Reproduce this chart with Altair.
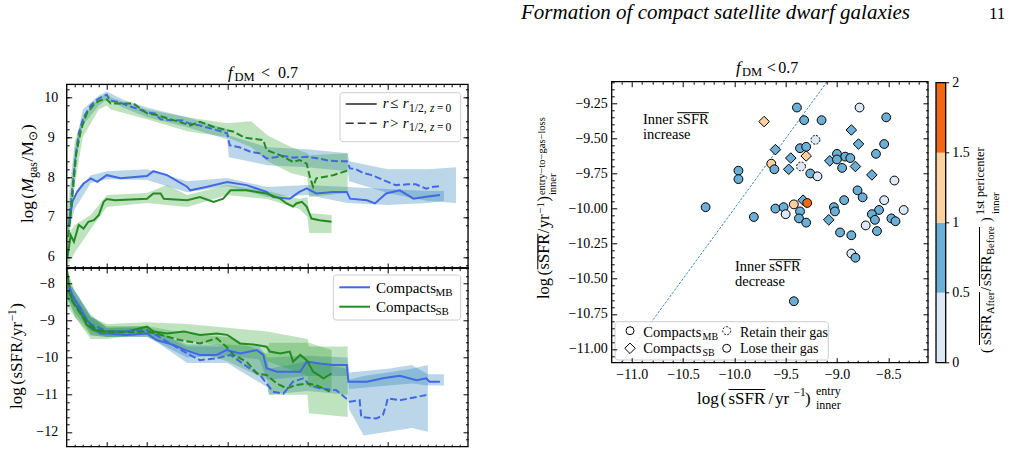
import altair as alt
import pandas as pd

FONT = "Liberation Serif"

# ------------------------------------------------------------------ data
# Left panels: time (Gyr). MB = blue, SB = green; inner (r<=r1/2) solid, outer dashed
mgas_mb_in_t = [-0.97,-0.93,-0.87,-0.79,-0.70,-0.62,-0.50,-0.33,0.0,0.08,0.25,0.50,0.54,0.75,1.00,1.24,1.49,1.57,1.78,1.90,1.99,2.11,2.32,2.49,2.53,2.74,2.84,2.98,3.15,3.32,3.48,3.65]
mgas_mb_in = [6.8,7.38,7.63,7.84,7.97,7.88,8.05,7.97,8.03,8.15,8.05,7.76,7.67,7.76,7.88,7.80,7.63,7.50,7.46,7.63,7.72,7.59,7.63,7.63,7.46,7.42,7.34,7.59,7.67,7.46,7.51,7.55]
mgas_mb_out_t = [-0.97,-0.93,-0.89,-0.85,-0.79,-0.70,-0.62,-0.55,-0.50,-0.46,-0.35,-0.25,-0.12,0.0,0.10,0.17,0.30,0.45,0.52,0.65,0.80,0.92,1.00,1.03,1.15,1.30,1.40,1.49,1.60,1.70,1.82,1.99,2.10,2.28,2.40,2.49,2.53,2.60,2.69,2.80,2.86,3.00,3.10,3.25,3.35,3.48,3.55,3.64]
mgas_mb_out = [6.8,7.7,8.5,9.1,9.5,9.8,9.95,10.03,10.07,9.92,9.88,9.8,9.72,9.62,9.6,9.45,9.43,9.42,9.35,9.3,9.22,9.15,9.1,8.8,8.75,8.63,8.6,8.47,8.50,8.53,8.49,8.51,8.48,8.41,8.40,8.40,8.22,8.20,8.11,8.05,8.00,7.88,7.80,7.82,7.82,7.71,7.75,7.77]
mgas_sb_in_t = [-0.99,-0.95,-0.91,-0.85,-0.79,-0.73,-0.66,-0.60,-0.54,-0.50,-0.40,0.0,0.08,0.17,0.21,0.50,0.66,0.83,0.95,1.04,1.24,1.49,1.66,1.74,1.82,1.86,1.93,1.99,2.05,2.15,2.30]
mgas_sb_in = [6.0,6.54,6.38,6.8,6.71,6.88,6.92,7.05,7.38,7.45,7.42,7.46,7.59,7.59,7.46,7.42,7.5,7.38,7.46,7.67,7.67,7.59,7.46,7.34,7.26,7.34,7.38,7.26,6.96,6.92,6.88]
mgas_sb_out_t = [-0.98,-0.93,-0.88,-0.82,-0.75,-0.65,-0.58,-0.50,-0.45,-0.30,-0.17,0.0,0.12,0.33,0.54,0.66,0.83,1.08,1.22,1.45,1.49,1.66,1.82,1.90,1.99,2.03,2.07,2.11,2.32,2.51]
mgas_sb_out = [6.5,7.5,8.6,9.2,9.6,9.85,9.93,9.95,9.85,9.85,9.85,9.6,9.56,9.43,9.3,9.39,9.26,9.14,8.99,8.93,8.68,8.55,8.38,8.43,8.34,8.0,7.76,7.97,8.05,8.17]

band_mb_out_t = [-0.98,-0.9,-0.8,-0.6,-0.5,-0.3,0.0,0.5,1.0,1.02,1.5,2.0,2.5,2.52,3.0,3.5,3.85]
band_mb_out_lo = [6.6,8.3,9.3,9.8,9.95,9.75,9.5,9.25,8.95,8.5,8.3,8.25,8.15,7.9,7.6,7.4,7.35]
band_mb_out_hi = [7.0,8.7,9.7,10.05,10.15,9.95,9.75,9.5,9.2,9.05,8.75,8.7,8.6,8.4,8.2,8.2,8.25]
band_mb_in_t = [-0.98,-0.9,-0.7,-0.5,0.0,0.5,1.0,1.5,2.0,2.5,3.0,3.5,3.7]
band_mb_in_lo = [6.6,7.2,7.85,7.95,7.93,7.62,7.78,7.5,7.55,7.35,7.3,7.35,7.4]
band_mb_in_hi = [7.0,7.55,8.05,8.15,8.2,7.9,7.98,7.75,7.8,7.75,7.7,7.65,7.65]
band_sb_in_t = [-1.0,-0.9,-0.7,-0.5,0.0,0.25,0.5,1.0,1.5,1.9,2.0,2.02,2.3]
band_sb_in_lo = [5.75,6.1,6.7,7.25,7.35,7.3,7.25,7.55,7.45,7.2,7.0,6.6,6.6]
band_sb_in_hi = [6.5,6.8,7.05,7.55,7.6,7.8,7.55,7.8,7.65,7.45,7.5,7.1,7.05]
band_sb_out_t = [-1.0,-0.9,-0.8,-0.6,-0.5,-0.45,0.0,0.5,1.0,1.3,1.5,1.8,2.0,2.02,2.5]
band_sb_out_lo = [6.0,7.8,9.0,9.7,9.8,9.7,9.45,9.15,9.0,8.75,8.4,8.1,8.0,7.5,7.6]
band_sb_out_hi = [7.0,8.9,9.5,10.0,10.1,10.0,9.7,9.5,9.35,9.4,9.05,8.75,8.6,8.55,8.6]

ssfr_mb_in_t = [-0.97,-0.91,-0.83,-0.75,-0.66,-0.58,-0.50,-0.25,0.0,0.12,0.33,0.48,0.66,0.87,0.99,1.16,1.37,1.45,1.49,1.62,1.78,1.91,1.99,2.15,2.32,2.49,2.51,2.74,2.94,3.15,3.36,3.48,3.52,3.65]
ssfr_mb_in = [-8.13,-8.4,-8.67,-8.99,-9.21,-9.35,-9.35,-9.39,-9.35,-9.53,-9.66,-9.8,-9.93,-9.93,-9.8,-9.89,-9.8,-9.93,-10.29,-10.38,-10.38,-10.38,-10.11,-10.16,-10.2,-10.2,-10.65,-10.65,-10.56,-10.49,-10.61,-10.56,-10.65,-10.65]
ssfr_mb_out_t = [-0.97,-0.9,-0.79,-0.7,-0.58,-0.5,-0.3,0.0,0.25,0.5,0.66,0.87,1.04,1.16,1.28,1.41,1.49,1.57,1.70,1.82,1.95,2.03,2.15,2.36,2.53,2.65,2.67,2.86,2.94,2.98,3.0,3.15,3.48]
ssfr_mb_out = [-8.1,-8.45,-8.85,-9.1,-9.21,-9.3,-9.3,-9.26,-9.57,-9.89,-10.07,-10.02,-9.93,-10.11,-10.29,-10.47,-10.7,-10.92,-10.97,-10.65,-10.56,-10.74,-10.83,-10.88,-11.19,-11.15,-11.6,-11.64,-11.55,-11.28,-11.1,-11.15,-11.01]
ssfr_sb_in_t = [-1.0,-0.97,-0.93,-0.83,-0.75,-0.66,-0.58,-0.25,0.0,0.08,0.25,0.46,0.66,0.87,1.0,1.16,1.37,1.49,1.53,1.66,1.78,1.82,1.91,1.99,2.07,2.2,2.3]
ssfr_sb_in = [-7.6,-8.04,-8.49,-8.76,-9.12,-9.26,-9.3,-9.3,-9.17,-9.3,-9.35,-9.3,-9.39,-9.35,-9.39,-9.62,-9.66,-9.71,-9.84,-9.89,-9.84,-10.11,-9.93,-10.07,-10.38,-10.56,-10.43]
ssfr_sb_out_t = [-0.98,-0.9,-0.8,-0.7,-0.6,-0.5,-0.25,0.0,0.17,0.41,0.66,0.87,0.99,1.08,1.24,1.37,1.49,1.62,1.74,1.86,1.99,2.11,2.28]
ssfr_sb_out = [-8.2,-8.6,-8.9,-9.15,-9.25,-9.3,-9.32,-9.3,-9.39,-9.53,-9.62,-9.48,-9.71,-9.93,-10.11,-10.43,-10.47,-10.7,-10.83,-10.74,-10.7,-10.74,-10.92]

sband_mb_in_t = [-1.0,-0.9,-0.7,-0.5,0.0,0.5,1.0,1.4,1.5,2.0,2.5,2.52,3.0,3.3,3.5,3.7]
sband_mb_in_lo = [-8.4,-8.6,-9.4,-9.45,-9.45,-10.0,-9.95,-10.05,-10.6,-10.5,-10.5,-10.85,-10.75,-10.7,-10.75,-10.75]
sband_mb_in_hi = [-7.9,-8.2,-8.85,-9.2,-9.2,-9.65,-9.65,-9.7,-10.0,-9.95,-10.0,-10.4,-10.3,-10.2,-10.45,-10.45]
sband_mb_out_t = [-1.0,-0.9,-0.7,-0.5,0.0,0.5,1.0,1.5,1.52,2.0,2.5,2.52,2.7,3.0,3.3,3.5]
sband_mb_out_lo = [-8.4,-8.8,-9.3,-9.45,-9.4,-10.15,-10.15,-10.8,-11.0,-10.9,-11.0,-11.4,-12.1,-12.0,-11.9,-12.0]
sband_mb_out_hi = [-7.9,-8.2,-8.9,-9.2,-9.15,-9.7,-9.7,-10.1,-10.3,-10.1,-10.3,-10.6,-10.5,-10.4,-10.3,-10.2]
sband_sb_in_t = [-1.0,-0.9,-0.7,-0.5,0.0,0.5,1.0,1.5,2.0,2.02,2.3]
sband_sb_in_lo = [-8.3,-8.9,-9.5,-9.5,-9.35,-9.55,-9.7,-10.1,-10.5,-10.8,-10.9]
sband_sb_in_hi = [-7.6,-8.2,-8.9,-9.1,-9.05,-9.1,-9.2,-9.3,-9.5,-9.6,-9.8]
sband_sb_out_t = [-1.0,-0.9,-0.7,-0.5,0.0,0.5,1.0,1.5,1.52,2.0,2.02,2.5]
sband_sb_out_lo = [-8.6,-8.9,-9.4,-9.45,-9.45,-9.8,-10.1,-10.6,-11.0,-11.0,-11.5,-11.6]
sband_sb_out_hi = [-8.0,-8.4,-8.9,-9.15,-9.15,-9.35,-9.45,-9.9,-9.6,-9.6,-9.7,-9.7]

# Right panel scatter
sc_x = [-9.39,-8.78,-8.52,-9.32,-9.15,-9.71,-8.86,-9.21,-8.79,-8.54,-9.60,-9.36,-9.30,-8.62,-9.00,-8.92,-8.87,-9.30,-9.45,-9.07,-9.00,-9.64,-8.82,-9.35,-9.47,-9.61,-8.95,-9.96,-9.96,-9.26,-9.19,-8.66,-8.44,-8.80,-8.75,-8.93,-8.54,-10.28,-9.33,-9.60,-9.52,-9.42,-9.29,-9.03,-9.02,-8.59,-8.35,-8.66,-9.50,-9.36,-9.81,-9.37,-9.08,-8.63,-8.47,-8.43,-9.30,-8.72,-8.61,-8.97,-8.86,-8.86,-8.82,-9.42]
sc_y = [-9.28,-9.28,-9.35,-9.37,-9.37,-9.38,-9.44,-9.51,-9.54,-9.54,-9.58,-9.57,-9.56,-9.61,-9.61,-9.63,-9.64,-9.625,-9.64,-9.66,-9.65,-9.68,-9.70,-9.70,-9.72,-9.72,-9.71,-9.73,-9.79,-9.75,-9.77,-9.76,-9.80,-9.87,-9.92,-9.94,-9.94,-9.99,-9.94,-10.0,-9.99,-9.97,-9.96,-9.99,-10.02,-10.01,-10.01,-10.04,-10.04,-10.02,-10.06,-10.07,-10.08,-10.08,-10.07,-10.09,-10.10,-10.12,-10.16,-10.17,-10.19,-10.32,-10.35,-10.66]
sc_type = ["MB","MB","MB","MB","MB","SB","SB","MB","SB","MB","SB","MB","MB","MB","MB","MB","MB","SB","SB","SB","MB","MB","SB","MB","SB","MB","MB","MB","MB","MB","MB","SB","MB","MB","MB","MB","MB","MB","SB","MB","MB","MB","MB","MB","MB","MB","MB","MB","MB","MB","MB","MB","SB","MB","MB","MB","MB","MB","MB","MB","MB","MB","MB","MB"]
sc_ratio = [0.75,0.3,0.75,0.75,0.75,1.2,0.75,0.3,0.75,0.75,0.75,0.75,0.75,0.75,0.75,0.75,0.75,1.2,0.75,0.75,0.75,1.2,0.75,0.3,0.75,0.75,0.75,0.75,0.75,0.75,0.3,0.75,0.3,0.75,0.75,0.75,0.3,0.75,0.75,0.75,0.75,1.2,1.7,0.75,0.75,0.75,0.3,0.75,0.3,0.75,0.75,0.75,0.75,0.75,0.75,0.75,0.75,0.3,0.75,0.75,0.75,0.3,0.75,0.75]
sc_retain = [i in (7, 23) for i in range(64)]
diag_x = [-11.09, -9.10]
diag_y = [-11.09, -9.10]

cb_lo = [0.0, 0.5, 1.0, 1.5]
cb_hi = [0.5, 1.0, 1.5, 2.0]
cb_mid = [0.25, 0.75, 1.25, 1.75]
cb_colors = ["#dbe9f6", "#6baed6", "#fdd0a2", "#f16913"]

# ------------------------------------------------------------------ geometry (page px)
LX0, LX1 = 66.7, 468.0
TY0, MY, BY1 = 84.3, 268.0, 446.7
RX0, RX1, RY0, RY1 = 611.7, 928.0, 81.7, 362.7
CBX0, CBX1, CBY0 = 936.0, 945.7, 82.7
OX, OY = LX0, TY0          # view origin = top-left plot corner
VW, VH = LX1 - LX0, MY - TY0

BLUE, GREEN = "#4169e1", "#228b22"
BBAND, GBAND = "#1f77b4", "#2ca02c"
ONE = pd.DataFrame({"k": [0]})
L = []  # all layers

# Times-metric advance widths (per 1000 em) used to lay out multi-part math-like labels
TW = {" ": 250, "(": 333, ")": 333, "/": 278, ".": 250, ",": 250, "−": 564, "=": 564, "<": 564, ">": 564,
      "a": 444, "c": 444, "e": 444, "f": 333, "g": 500, "i": 278, "l": 278, "n": 500, "o": 500, "p": 500,
      "r": 333, "s": 389, "t": 278, "y": 500, "A": 722, "B": 667, "F": 556, "M": 889, "R": 667, "S": 556,
      "⊙": 840}
TWI = {"M": 833, "f": 278, "r": 389, "z": 389}


def tw(s, size, italic=False):
    return sum((TWI if italic else TW).get(ch, 500) for ch in s) / 1000 * size


def xsc(dom, x0, x1):
    return alt.Scale(domain=dom, range=[x0 - OX, x1 - OX], nice=False, zero=False)


def ysc(dom, y0, y1):
    return alt.Scale(domain=dom, range=[y1 - OY, y0 - OY], nice=False, zero=False)


def dummy(xs, ys, xaxis=None, yaxis=None):
    d = pd.DataFrame({"u": [sum(xs.domain) / 2], "v": [sum(ys.domain) / 2]})
    return alt.Chart(d).mark_point(opacity=0).encode(
        x=alt.X("u:Q", scale=xs, axis=xaxis), y=alt.Y("v:Q", scale=ys, axis=yaxis))


def frame_ticks(box, xs, ys, xmaj, xmin, ymaj, ymin):
    x0, y0, x1, y1 = box
    base = dict(ticks=True, labels=False, domain=False, grid=False, title=None, tickColor="black",
                tickWidth=1, zindex=2)
    for orient, off in (("top", -(y1 - OY)), ("bottom", (y0 - OY) - VH)):
        for vals, ts in ((xmaj, 5), (xmin, 2.5)):
            L.append(dummy(xs, ys, xaxis=alt.Axis(orient=orient, offset=off, values=vals, tickSize=ts, **base)))
    for orient, off in (("right", (x0 - OX) - VW), ("left", -(x1 - OX))):
        for vals, ts in ((ymaj, 5), (ymin, 2.5)):
            L.append(dummy(xs, ys, yaxis=alt.Axis(orient=orient, offset=off, values=vals, tickSize=ts, **base)))
    BOX(x0, y0, x1, y1, fop=0, stroke="black", sw=1.3, rad=0)


def labels(xs, ys, ch, orient, off, vals, fmt, pad, align=None, size=14):
    kw = dict(orient=orient, offset=off, values=vals, format=fmt, ticks=False, tickSize=0, domain=False,
              grid=False, title=None, labels=True, labelFont=FONT, labelFontSize=size, labelColor="black",
              labelPadding=pad, labelFlush=False, labelOverlap=False)
    if align:
        kw["labelAlign"] = align
    if ch == "x":
        L.append(dummy(xs, ys, xaxis=alt.Axis(**kw)))
    else:
        L.append(dummy(xs, ys, yaxis=alt.Axis(**kw)))


def T(s, px, py, size, italic=False, angle=0, color="black"):
    kw = dict(text=s, font=FONT, fontSize=size, color=color, align="left", baseline="alphabetic")
    if italic:
        kw["fontStyle"] = "italic"
    if angle:
        kw["angle"] = angle
    L.append(alt.Chart(ONE).mark_text(**kw).encode(x=alt.value(px - OX), y=alt.value(py - OY)))


def R(x1, y1, x2, y2, color="black", width=1.0, dash=None):
    kw = dict(color=color, strokeWidth=width)
    if dash:
        kw["strokeDash"] = dash
    L.append(alt.Chart(ONE).mark_rule(**kw).encode(
        x=alt.value(x1 - OX), x2=alt.value(x2 - OX), y=alt.value(y1 - OY), y2=alt.value(y2 - OY)))


def BOX(x1, y1, x2, y2, fill="white", fop=0.8, stroke="#cccccc", sw=1.0, rad=3):
    L.append(alt.Chart(ONE).mark_rect(fill=fill, fillOpacity=fop, stroke=stroke, strokeWidth=sw,
                                      cornerRadius=rad).encode(
        x=alt.value(x1 - OX), x2=alt.value(x2 - OX), y=alt.value(y1 - OY), y2=alt.value(y2 - OY)))


def SYM(px, py, shape, size, dash=None):
    kw = dict(shape=shape, size=size, filled=True, fill="white", stroke="black", strokeWidth=1, opacity=1)
    if dash:
        kw["strokeDash"] = dash
    L.append(alt.Chart(ONE).mark_point(**kw).encode(x=alt.value(px - OX), y=alt.value(py - OY)))


def vseq(pieces, bx, y):
    """Rotated (bottom-to-top) label built from pieces (text, size, italic, shift, gap)."""
    spans = []
    for s, size, it, shift, gap in pieces:
        y -= gap
        T(s, bx + shift, y, size, italic=it, angle=270)
        w = tw(s, size, it)
        spans.append((s, y, y - w))
        y -= w
    return spans


def time_panel(lines, bands, xs, ys):
    for bt, lo, hi, col in bands:
        df = pd.DataFrame({"t": bt, "lo": lo, "hi": hi})
        L.append(alt.Chart(df).mark_area(color=col, opacity=0.3).encode(
            x=alt.X("t:Q", scale=xs, axis=None), y=alt.Y("lo:Q", scale=ys, axis=None), y2="hi:Q"))
    for t, y, col, dashed in lines:
        df = pd.DataFrame({"t": t, "y": y})
        kw = dict(color=col, strokeWidth=2)
        if dashed:
            kw["strokeDash"] = [7, 3]
        L.append(alt.Chart(df).mark_line(**kw).encode(
            x=alt.X("t:Q", scale=xs, axis=None), y=alt.Y("y:Q", scale=ys, axis=None)))


x_major_t = [-0.5, 0, 1, 2, 3]
x_minor_t = [round(-1 + 0.1 * i, 2) for i in range(1, 50) if i % 10 != 0 and i != 5]

# ---------------- top-left panel
xs_t = xsc([-1, 4], LX0, LX1)
ys_top = ysc([5.72, 10.33], TY0, MY)
time_panel([(mgas_mb_in_t, mgas_mb_in, BLUE, False), (mgas_sb_in_t, mgas_sb_in, GREEN, False),
            (mgas_mb_out_t, mgas_mb_out, BLUE, True), (mgas_sb_out_t, mgas_sb_out, GREEN, True)],
           [(band_mb_out_t, band_mb_out_lo, band_mb_out_hi, BBAND), (band_mb_in_t, band_mb_in_lo, band_mb_in_hi, BBAND),
            (band_sb_out_t, band_sb_out_lo, band_sb_out_hi, GBAND), (band_sb_in_t, band_sb_in_lo, band_sb_in_hi, GBAND)],
           xs_t, ys_top)
frame_ticks((LX0, TY0, LX1, MY), xs_t, ys_top, x_major_t, x_minor_t, [6, 7, 8, 9, 10],
            [round(5.8 + 0.2 * i, 1) for i in range(23) if (i + 1) % 5 != 0])
labels(xs_t, ys_top, "y", "left", -(LX0 - OX), [6, 7, 8, 9, 10], "d", 16, align="center")
BOX(340, 92.7, 460.7, 141.7)
R(345.7, 104, 376.7, 104, color="#333333", width=1.6)
R(345.7, 123.3, 376.7, 123.3, color="#333333", width=1.6, dash=[8, 4])
for yy, sym in ((108.3, "≤"), (127.7, ">")):
    T("r", 382.7, yy, 15, italic=True)
    T(sym, 390, yy, 15)
    T("r", 402.7, yy, 15, italic=True)
    T("1/2,", 409, yy + 3.5, 11.5)
    T("z", 430, yy + 3.5, 11.5, italic=True)
    T("=", 437, yy + 3.5, 11.5)
    T("0", 445.5, yy + 3.5, 11.5)

# ---------------- bottom-left panel
ys_bot = ysc([-12.4, -7.59], MY, BY1)
time_panel([(ssfr_mb_in_t, ssfr_mb_in, BLUE, False), (ssfr_sb_in_t, ssfr_sb_in, GREEN, False),
            (ssfr_mb_out_t, ssfr_mb_out, BLUE, True), (ssfr_sb_out_t, ssfr_sb_out, GREEN, True)],
           [(sband_mb_out_t, sband_mb_out_lo, sband_mb_out_hi, BBAND), (sband_mb_in_t, sband_mb_in_lo, sband_mb_in_hi, BBAND),
            (sband_sb_out_t, sband_sb_out_lo, sband_sb_out_hi, GBAND), (sband_sb_in_t, sband_sb_in_lo, sband_sb_in_hi, GBAND)],
           xs_t, ys_bot)
frame_ticks((LX0, MY, LX1, BY1), xs_t, ys_bot, x_major_t, x_minor_t, [-12, -11, -10, -9, -8],
            [round(-12.2 + 0.2 * i, 1) for i in range(24) if (i - 1) % 5 != 0])
labels(xs_t, ys_bot, "y", "left", -(LX0 - OX), [-12, -11, -10, -9, -8], "d", 20, align="center")
BOX(333.3, 275, 460.7, 320)
R(339.3, 287.3, 370, 287.3, color=BLUE, width=2)
R(339.3, 306.7, 370, 306.7, color=GREEN, width=2)
T("Compacts", 376, 293.3, 15)
T("MB", 435.5, 296.3, 11)
T("Compacts", 376, 311.7, 15)
T("SB", 435.5, 314.7, 11)

# ---------------- right scatter panel
xs_r = xsc([-11.195, -8.113], RX0, RX1)
ys_r = ysc([-11.098, -9.096], RY0, RY1)
cscale = alt.Scale(type="threshold", domain=[0.5, 1.0, 1.5], range=cb_colors)
scdf = pd.DataFrame({"x": sc_x, "y": sc_y, "type": sc_type, "ratio": sc_ratio, "retain": sc_retain})
L.append(alt.Chart(pd.DataFrame({"x": diag_x, "y": diag_y})).mark_line(
    color="#3a86c8", strokeWidth=1, strokeDash=[2.5, 1.5]).encode(
    x=alt.X("x:Q", scale=xs_r, axis=None), y=alt.Y("y:Q", scale=ys_r, axis=None)))
for typ, shape, size in (("SB", "diamond", 112), ("MB", "circle", 78)):
    for ret in (False, True):
        kw = dict(shape=shape, size=size, filled=True, stroke="black", strokeWidth=1, opacity=1)
        if ret:
            kw["strokeDash"] = [2, 1.5]
        L.append(alt.Chart(scdf).transform_filter(
            f"datum.type == '{typ}' && datum.retain == {'true' if ret else 'false'}").mark_point(**kw).encode(
            x=alt.X("x:Q", scale=xs_r, axis=None), y=alt.Y("y:Q", scale=ys_r, axis=None),
            fill=alt.Fill("ratio:Q", scale=cscale, legend=None)))
frame_ticks((RX0, RY0, RX1, RY1), xs_r, ys_r, [-11.0, -10.5, -10.0, -9.5, -9.0, -8.5],
            [round(-11.1 + 0.1 * i, 2) for i in range(30) if (i - 1) % 5 != 0],
            [-11.0, -10.75, -10.5, -10.25, -10.0, -9.75, -9.5, -9.25],
            [round(-11.05 + 0.05 * i, 2) for i in range(40) if (i - 1) % 5 != 0])
labels(xs_r, ys_r, "y", "left", -(RX0 - OX), [-11.0, -10.75, -10.5, -10.25, -10.0, -9.75, -9.5, -9.25], ".2f", 4.4)
labels(xs_r, ys_r, "x", "bottom", (RY1 - OY) - VH, [-11.0, -10.5, -10.0, -9.5, -9.0, -8.5], ".1f", 5)
for (px, py, word) in ((643, 124, "increase"), (735, 271, "decrease")):
    T("Inner sSFR", px, py, 14.5)
    R(px + 34.2, py - 11.3, px + 65.7, py - 11.3, width=1)
    T(word, px, py + 14.5, 14.5)
BOX(615, 321.7, 828.3, 360)
SYM(630, 330.7, "circle", 64)
SYM(630, 348.3, "diamond", 110)
SYM(726.7, 330.7, "circle", 64, dash=[2, 1.5])
SYM(726.7, 348.3, "circle", 64)
T("Compacts", 643.3, 336.7, 14.5)
T("MB", 702.5, 339.5, 10)
T("Compacts", 643.3, 352.7, 14.5)
T("SB", 702.5, 355.5, 10)
T("Retain their gas", 740, 336.7, 14)
T("Lose their gas", 740, 352.7, 14)

# ---------------- colorbar
ys_cb = ysc([0, 2], CBY0, RY1)
cbdf = pd.DataFrame({"lo": cb_lo, "hi": cb_hi, "mid": cb_mid})
L.append(alt.Chart(cbdf).mark_rect().encode(
    x=alt.value(CBX0 - OX), x2=alt.value(CBX1 - OX),
    y=alt.Y("lo:Q", scale=ys_cb, axis=alt.Axis(
        orient="right", offset=(CBX1 - OX) - VW, values=[0, 0.5, 1, 1.5, 2], format="~g", tickSize=3,
        ticks=True, tickColor="black", domain=False, grid=False, title=None, labelFont=FONT,
        labelFontSize=14, labelColor="black", labelPadding=3, labelFlush=False, labelOverlap=False)),
    y2="hi:Q",
    fill=alt.Fill("mid:Q", scale=cscale, legend=None)))
BOX(CBX0, CBY0, CBX1, RY1, fop=0, stroke="black", sw=1.3, rad=0)

# ---------------- texts: header, titles, axis titles
T("Formation of compact satellite dwarf galaxies", 521, 18.5, 21, italic=True)
T("11", 989, 18.5, 17)
for (fx, dmx, ltx, zx, by) in ((228, 234.5, 261, 278, 77.7), (736, 742, 766.7, 778.3, 73.3)):
    T("f", fx, by, 17, italic=True)
    T("DM", dmx, by + 3, 12.5)
    T("<", ltx, by, 16)
    T("0.7", zx, by, 16)
# y title, top-left: log(M_gas / M_sun)
vseq([("log", 17, False, 0, 0), ("(", 17, False, 0, 2.5), ("M", 17, True, 0, 0.5), ("gas", 12, False, 3.5, 0.5),
      ("/", 17, False, 0, 0.5), ("M", 17, False, 0, 0.5), ("⊙", 12, False, 3.5, 0.5), (")", 17, False, 0, 0.5)],
     33.5, 223)
# y title, bottom-left: log(sSFR / yr^-1)
vseq([("log", 17, False, 0, 0), ("(", 17, False, 0, 2.5), ("sSFR", 17, False, 0, 0.5), ("/", 17, False, 0, 0.5),
      ("yr", 17, False, 0, 0.5), ("−1", 11.5, False, -6.5, 0.5), (")", 17, False, 0, 0.5)],
     22.5, 409)
# y title, right panel
sp = vseq([("log", 16.5, False, 0, 0), ("(", 16.5, False, 0, 2.5), ("sSFR", 16.5, False, 0, 0.5),
           ("/", 16.5, False, 0, 0.5), ("yr", 16.5, False, 0, 0.5), ("−1", 11, False, -5.5, 0.5),
           (")", 16.5, False, 0, 0.5), ("entry−to−gas−loss", 10.5, False, -4, 1)], 549, 299)
y_sup0 = sp[-1][1]
T("inner", 556, y_sup0, 10.5, angle=270)
R(537.8, sp[2][1], 537.8, sp[2][2], width=1)
# x title, right panel
for s, px, py, size in (("log", 697, 404, 17), ("(", 720.5, 404, 17), ("sSFR", 728.5, 404, 17), ("/", 768.5, 404, 17),
                        ("yr", 775, 404, 17), ("−1", 793.5, 396, 11.5), (")", 805, 404, 17),
                        ("entry", 816, 395, 12), ("inner", 816, 408.5, 12)):
    T(s, px, py, size)
R(728.5, 389.5, 765.4, 389.5, width=1)
# colorbar title
for s, bx, sy, size in (("(", 991, 353, 14), ("sSFR", 991, 345, 14), ("After", 994, 314, 10.5), ("/", 991, 291, 14),
                        ("sSFR", 991, 286, 14), ("Before", 994, 255, 10.5), (")", 991, 222, 14),
                        ("1st pericenter", 983.5, 215, 12.5), ("inner", 998.5, 214, 10.5)):
    T(s, bx, sy, size, angle=270)
R(979.5, 345, 979.5, 292, width=1)
R(979.5, 286, 979.5, 227, width=1)

chart = alt.layer(*L).properties(
    width=VW, height=VH,
    autosize=alt.AutoSizeParams(type="none"),
    padding={"left": OX, "top": OY, "right": 1012 - OX - VW, "bottom": 458 - OY - VH},
).resolve_scale(x="independent", y="independent", fill="independent").resolve_axis(
    x="independent", y="independent"
).configure_view(stroke="transparent").configure(font=FONT, background="white")

chart.save("out.html", embed_options={"renderer": "svg", "actions": False})
